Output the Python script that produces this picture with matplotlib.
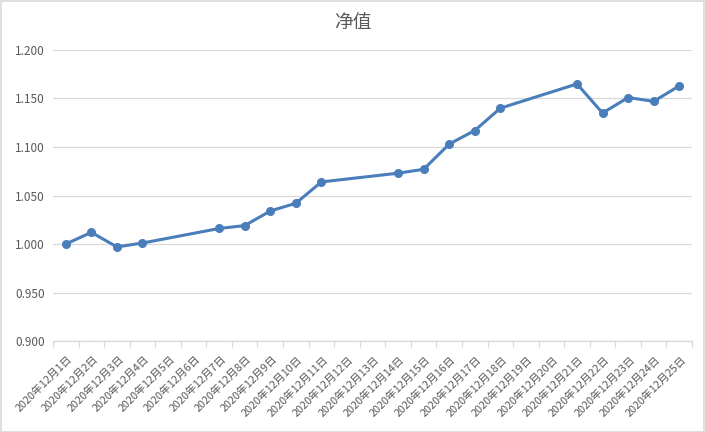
import numpy as np
import matplotlib
matplotlib.use('Agg')
import matplotlib.pyplot as plt
import matplotlib.transforms as mtransforms
from matplotlib.patches import Rectangle

plt.rcParams['font.family'] = ['Noto Sans CJK SC', 'DejaVu Sans']

# data (None = no trading day)
days = list(range(1, 26))
labels = ['2020年12月{}日'.format(d) for d in days]
nav = [1.000, 1.012, 0.997, 1.001, None, None, 1.016, 1.019, 1.034, 1.042,
       1.064, None, None, 1.073, 1.077, 1.103, 1.117, 1.140, None, None,
       1.165, 1.135, 1.151, 1.147, 1.163]
yticks = [0.900, 0.950, 1.000, 1.050, 1.100, 1.150, 1.200]

GRID = '#d9d9d9'
TEXT = '#595959'
LINE = '#4a7ebb'

fig = plt.figure(figsize=(7.05, 4.32), dpi=100)
fig.patches.append(Rectangle((0.001, 0.001), 0.998, 0.997, transform=fig.transFigure,
                             fill=False, edgecolor=GRID, linewidth=1.2))
ax = fig.add_axes([0.0752, 0.2106, 0.9064, 0.6737])

xs = [i for i, v in enumerate(nav) if v is not None]
ys = [v for v in nav if v is not None]
ax.plot(xs, ys, color=LINE, linewidth=2.2, marker='o', markersize=5.5, zorder=3)

ax.set_xlim(-0.5, len(days) - 0.5)
ax.set_ylim(0.9, 1.2)
ax.set_yticks(yticks)
ax.set_yticklabels(['{:.3f}'.format(t) for t in yticks])
ax.yaxis.grid(True, color=GRID, linewidth=0.9)
ax.set_axisbelow(True)

ax.set_xticks(range(len(days)))
ax.set_xticklabels(labels, rotation=45, ha='right', va='center', rotation_mode='anchor')
ax.set_xticks(np.arange(-0.5, len(days)), minor=True)
ax.tick_params(axis='x', which='major', length=0, pad=12, labelsize=7.8, labelcolor=TEXT)
ax.tick_params(axis='x', which='minor', length=4, width=0.9, color=GRID)
ax.tick_params(axis='y', length=0, pad=6, labelsize=8.5, labelcolor=TEXT)

shift = mtransforms.ScaledTranslation(5 / 100, 0, fig.dpi_scale_trans)
for lab in ax.get_xticklabels():
    lab.set_transform(lab.get_transform() + shift)

for s in ['top', 'right', 'left']:
    ax.spines[s].set_visible(False)
ax.spines['bottom'].set_color(GRID)
ax.spines['bottom'].set_linewidth(0.9)

fig.text(0.5, 1 - 22 / 432, '净值', ha='center', va='center', fontsize=13.5, color=TEXT)

fig.savefig('out.png', dpi=100)
